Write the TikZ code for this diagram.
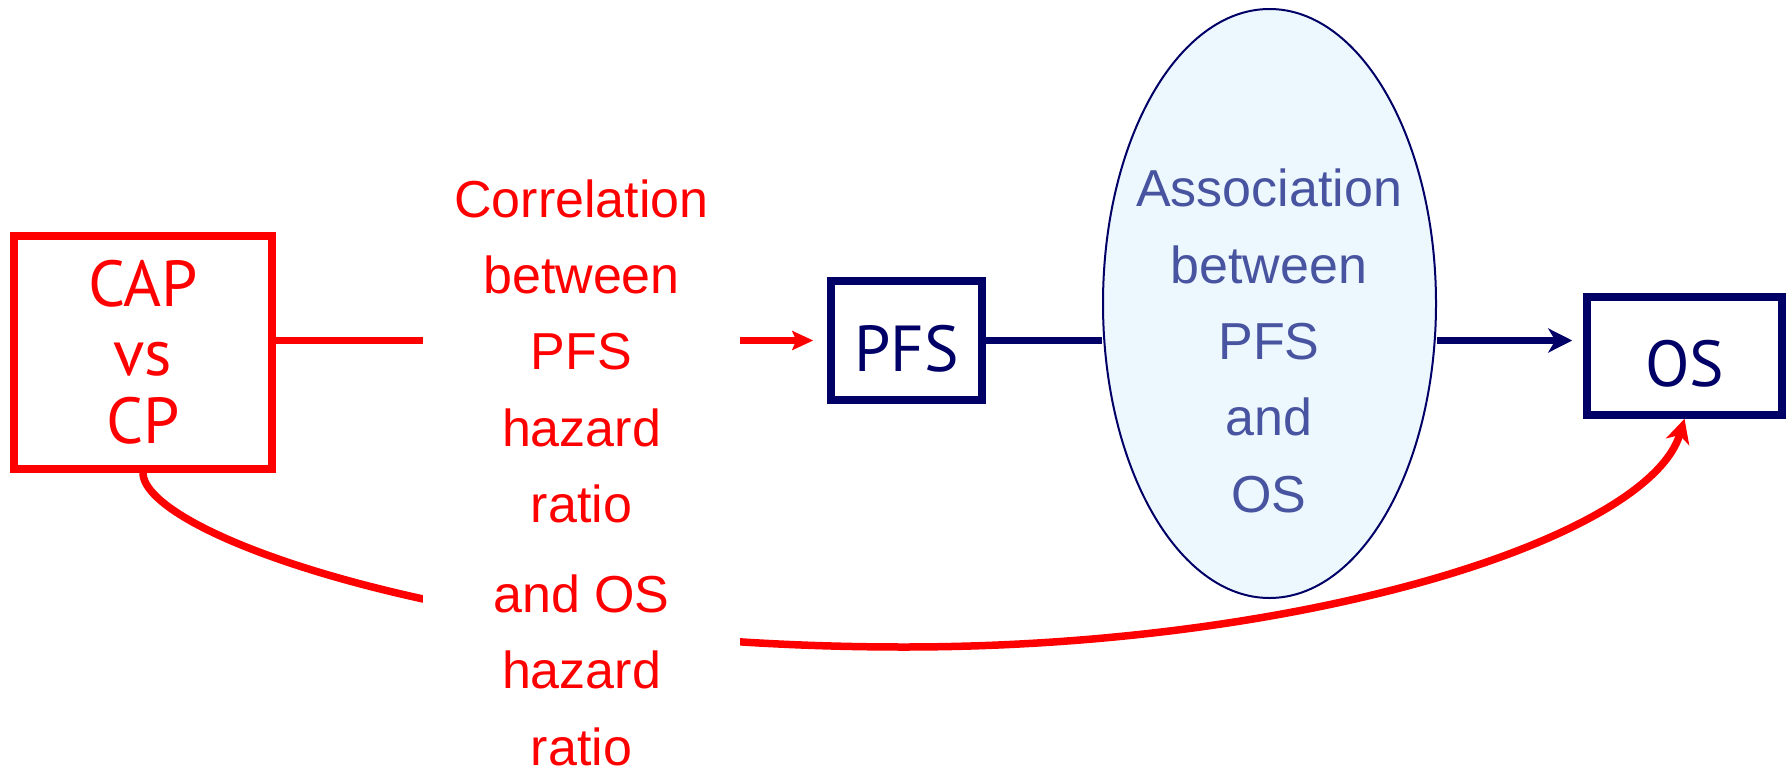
\documentclass[tikz,border=0pt]{standalone}
\usepackage{fontspec}
\setmainfont{Liberation Sans}
\newfontfamily\boxfont{PT Sans}
\usetikzlibrary{shapes.geometric,arrows.meta}
\definecolor{navy}{RGB}{0,0,102}
\definecolor{slate}{RGB}{72,84,160}
\definecolor{paleblue}{RGB}{236,247,254}
\begin{document}
\begin{tikzpicture}[x=1pt,y=-1pt,
  redbox/.style={draw=red, line width=7.5pt, rectangle, inner sep=0pt,
    text=red, align=center, font=\boxfont\fontsize{65}{68.3}\selectfont},
  navybox/.style={draw=navy, line width=7.5pt, rectangle, inner sep=0pt,
    text=navy, font=\boxfont\fontsize{65}{68}\selectfont,
    text height=61pt, text depth=0pt},
  assoc/.style={ellipse, draw=navy, line width=2pt, fill=paleblue,
    inner sep=0pt, minimum width=333pt, minimum height=589pt},
  assoctext/.style={text=slate, align=center, inner sep=0pt,
    font=\fontsize{52}{76.3}\selectfont},
  hrtext/.style={fill=white, text=red, align=center, inner xsep=0pt,
    inner ysep=2pt, minimum width=317pt, font=\fontsize{52}{76.3}\selectfont},
  redlink/.style={draw=red, line width=7.5pt},
  navylink/.style={draw=navy, line width=7pt},
  bigtip/.style={-{Stealth[length=24pt,width=24pt,inset=7pt]}},
  smalltip/.style={-{Stealth[length=21pt,width=19pt,inset=4pt]}}
]
\useasboundingbox (0,0) rectangle (1791,771);

% boxes and the ellipse
\node[redbox, minimum width=258pt, minimum height=233pt] (cap) at (143,352.5) {CAP\\vs\\CP};
\node[navybox, minimum width=151pt, minimum height=119pt] (pfs) at (906.5,340.5) {PFS};
\node[navybox, minimum width=195pt, minimum height=118pt] (os) at (1684.5,356) {OS};
\node[assoc] (ell) at (1269.5,303.5) {};
\node[assoctext] (asc) at (1269,341) {Association\\between\\PFS\\and\\OS};

% connectors
\draw[redlink, smalltip, shorten >=14pt] (cap.east |- pfs.west) -- (pfs.west);
\draw[navylink] (pfs.east) -- (pfs.east -| ell.west);
\coordinate (r) at (ell.east |- pfs.east);
\draw[navylink, bigtip, shorten >=11pt] (r) -- (r -| os.west);
\coordinate (low) at (904,647);
\draw[redlink, bigtip] (cap.south) .. controls +(0,60) and +(-450,0) .. (low)
  .. controls +(400,0) and +(-36,120) .. (os.south);

% label over the red connectors
\node[hrtext, anchor=north] (hr) at (581.5,177.4)
  {Correlation\\between\\PFS\\hazard\\ratio\\[13.7pt]and OS\\hazard\\ratio};
\end{tikzpicture}
\end{document}
